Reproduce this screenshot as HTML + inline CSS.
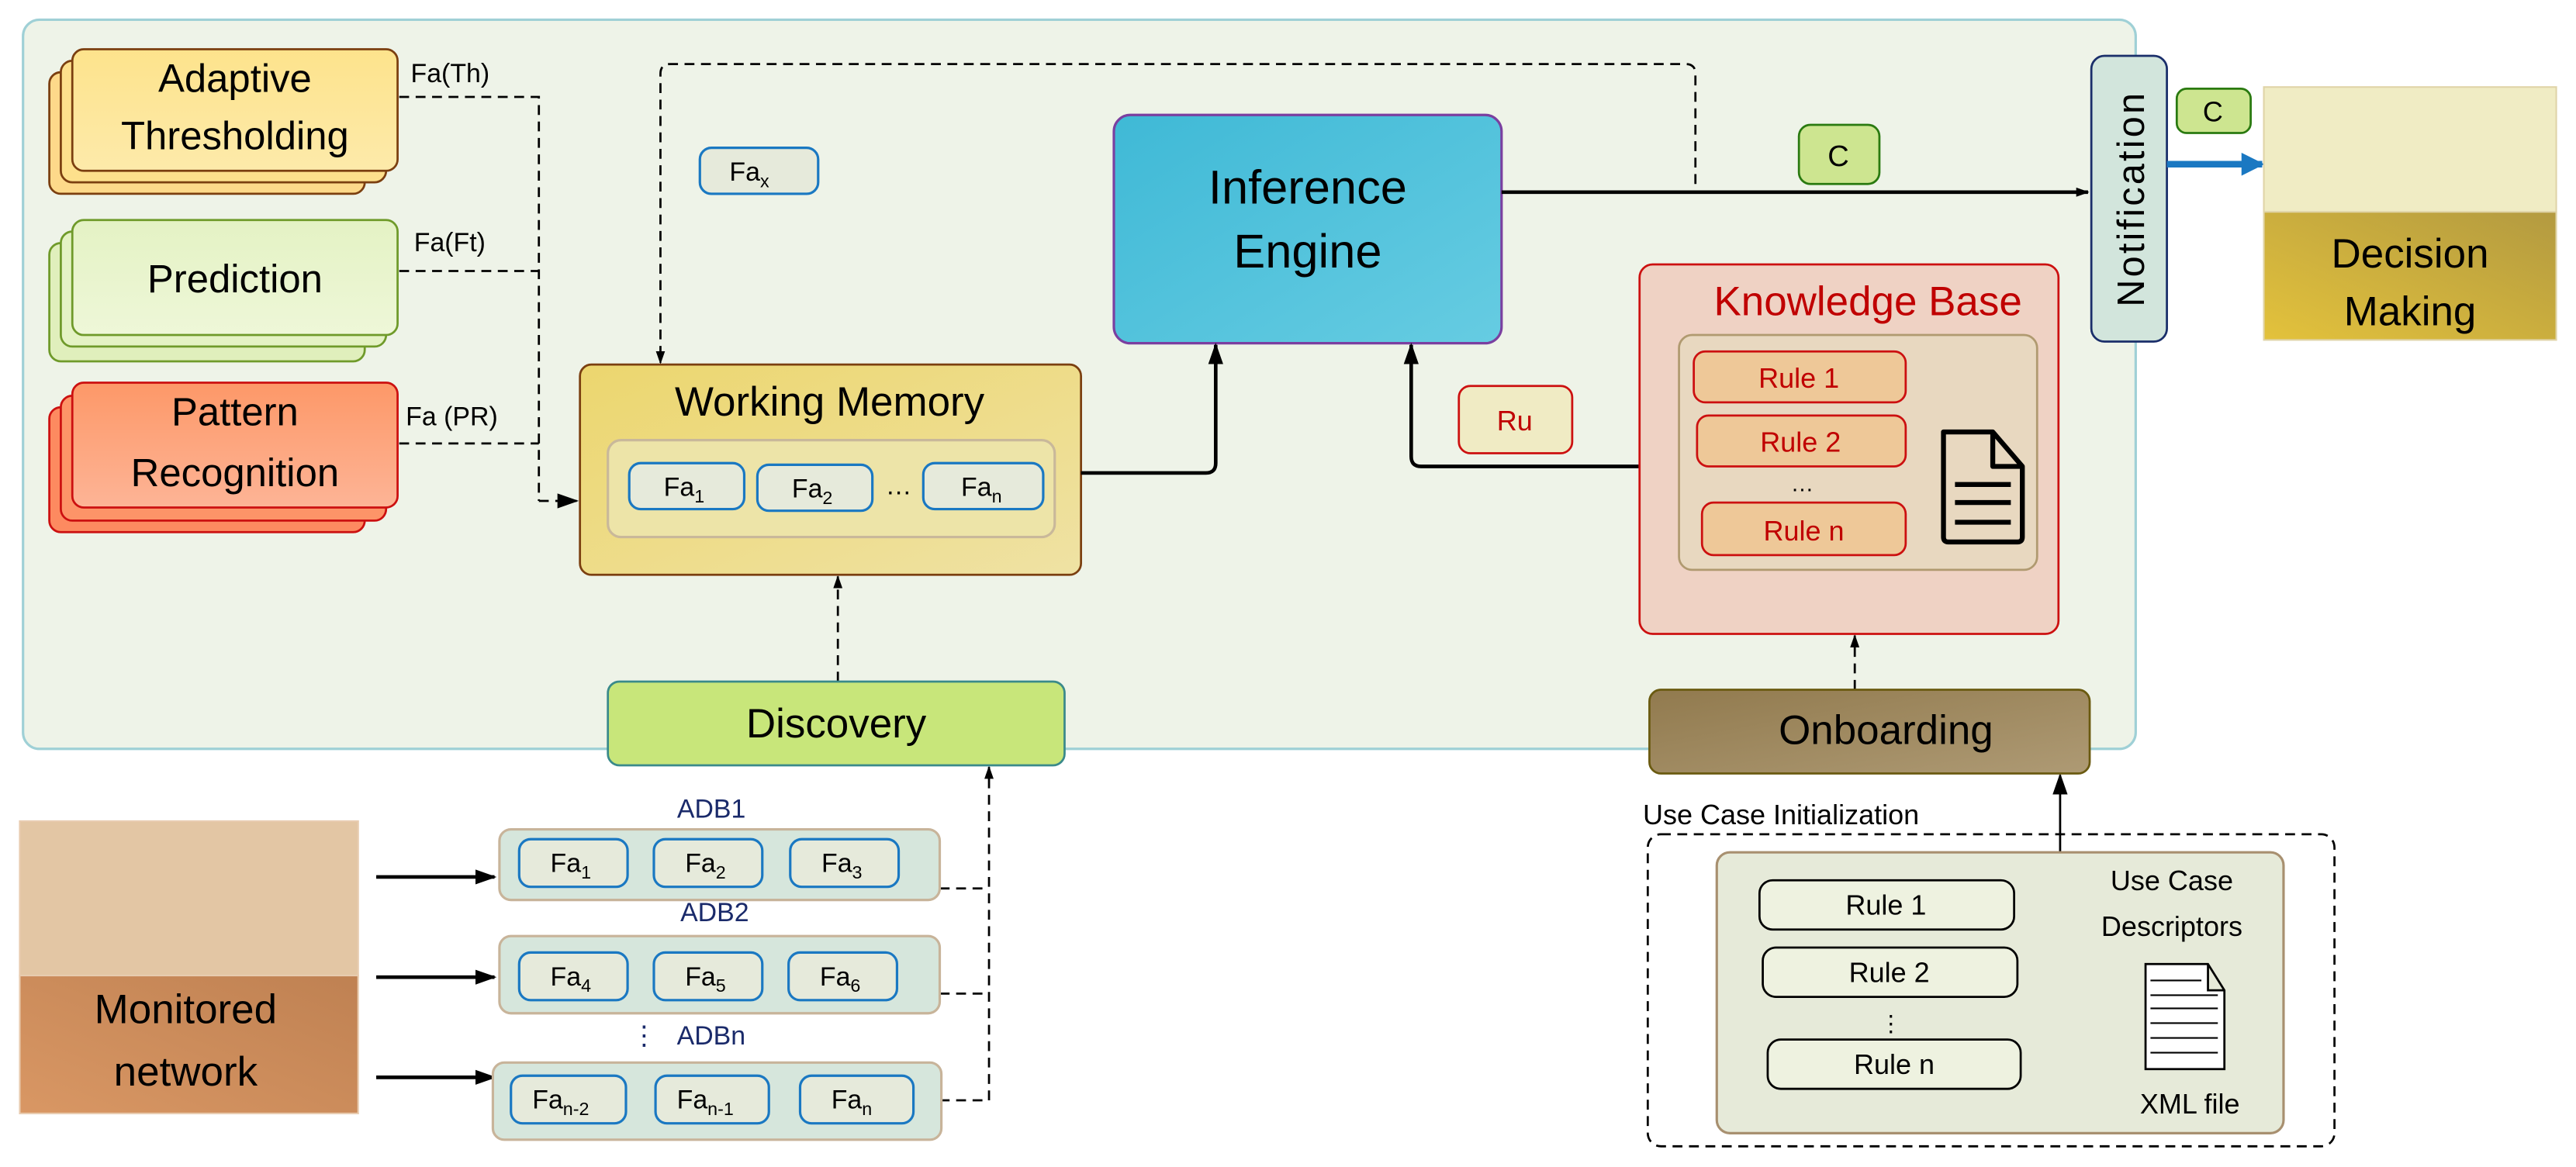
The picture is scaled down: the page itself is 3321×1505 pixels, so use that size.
<!DOCTYPE html>
<html><head><meta charset="utf-8"><style>
html,body{margin:0;padding:0;background:#fff;}
svg{display:block;}
text{font-family:"Liberation Sans",sans-serif;}
</style></head><body>
<svg width="3321" height="1505" viewBox="0 0 1568 710.6" xmlns="http://www.w3.org/2000/svg">
<defs>
<marker id="ah" viewBox="0 0 10 10" refX="9" refY="5" markerWidth="8" markerHeight="8" orient="auto-start-reverse" markerUnits="userSpaceOnUse"><path d="M0,1.5 L10,5 L0,8.5 z" fill="#000"/></marker>
<marker id="ahL" viewBox="0 0 10 10" refX="9" refY="5" markerWidth="13" markerHeight="13" orient="auto" markerUnits="userSpaceOnUse"><path d="M0,1.5 L10,5 L0,8.5 z" fill="#000"/></marker>
<marker id="ahb" viewBox="0 0 10 10" refX="9" refY="5" markerWidth="14" markerHeight="14" orient="auto" markerUnits="userSpaceOnUse"><path d="M0,0 L10,5 L0,10 z" fill="#1a78c2"/></marker>
<linearGradient id="gIE" x1="0" y1="0" x2="1" y2="1"><stop offset="0" stop-color="#3fb9d6"/><stop offset="1" stop-color="#66cce2"/></linearGradient>
<linearGradient id="gWM" x1="0" y1="0" x2="1" y2="1"><stop offset="0" stop-color="#ecd66e"/><stop offset="1" stop-color="#efe2a4"/></linearGradient>
<linearGradient id="gDM" x1="1" y1="0" x2="0" y2="1"><stop offset="0" stop-color="#b39a40"/><stop offset="1" stop-color="#e3c23c"/></linearGradient>
<linearGradient id="gMN" x1="1" y1="0" x2="0" y2="1"><stop offset="0" stop-color="#bf8152"/><stop offset="1" stop-color="#d99764"/></linearGradient>
<linearGradient id="gON" x1="0" y1="0" x2="1" y2="1"><stop offset="0" stop-color="#917a4e"/><stop offset="1" stop-color="#ae9a74"/></linearGradient>
<linearGradient id="gPR" x1="0" y1="0" x2="0" y2="1"><stop offset="0" stop-color="#fd9868"/><stop offset="1" stop-color="#fdb496"/></linearGradient>
<linearGradient id="gAT" x1="0" y1="0" x2="0" y2="1"><stop offset="0" stop-color="#fde38c"/><stop offset="1" stop-color="#fdeaaa"/></linearGradient>
<linearGradient id="gPD" x1="0" y1="0" x2="0" y2="1"><stop offset="0" stop-color="#e4f2c4"/><stop offset="1" stop-color="#eef7d8"/></linearGradient>
</defs>

<rect x="14" y="12" width="1286" height="444" rx="10" fill="#eef3e8" stroke="#9fd0d6" stroke-width="1.5"/>

<rect x="30" y="44" width="192" height="74" rx="7" fill="#fdd98a" stroke="#7b3f10" stroke-width="1.3"/>
<rect x="37" y="37" width="198" height="74" rx="7" fill="#fde08c" stroke="#7b3f10" stroke-width="1.3"/>
<rect x="44" y="30" width="198" height="74" rx="7" fill="url(#gAT)" stroke="#7b3f10" stroke-width="1.3"/>
<text x="143" y="56" font-size="24" text-anchor="middle">Adaptive</text>
<text x="143" y="91" font-size="24" text-anchor="middle">Thresholding</text>

<rect x="30" y="148" width="192" height="72" rx="7" fill="#e0efbc" stroke="#6f9a2a" stroke-width="1.3"/>
<rect x="37" y="141" width="198" height="70" rx="7" fill="#e4f2c4" stroke="#6f9a2a" stroke-width="1.3"/>
<rect x="44" y="134" width="198" height="70" rx="7" fill="url(#gPD)" stroke="#6f9a2a" stroke-width="1.3"/>
<text x="143" y="178" font-size="24" text-anchor="middle">Prediction</text>

<rect x="30" y="248" width="192" height="76" rx="7" fill="#fd8a60" stroke="#cc1010" stroke-width="1.3"/>
<rect x="37" y="241" width="198" height="76" rx="7" fill="#fd9468" stroke="#cc1010" stroke-width="1.3"/>
<rect x="44" y="233" width="198" height="76" rx="7" fill="url(#gPR)" stroke="#cc1010" stroke-width="1.3"/>
<text x="143" y="259" font-size="24" text-anchor="middle">Pattern</text>
<text x="143" y="296" font-size="24" text-anchor="middle">Recognition</text>

<text x="250" y="50" font-size="16">Fa(Th)</text>
<text x="252" y="153" font-size="16">Fa(Ft)</text>
<text x="247" y="259" font-size="16">Fa (PR)</text>

<g fill="none" stroke="#000" stroke-width="1.3" stroke-dasharray="6,4">
<path d="M243,59 H328 V305"/>
<path d="M243,165 H328"/>
<path d="M243,270 H328"/>
<path d="M328,305 H351" marker-end="url(#ahL)"/>
<path d="M1032,112 V45 Q1032,39 1026,39 H408 Q402,39 402,45 V221" marker-end="url(#ah)"/>
<path d="M510,415 V351" marker-end="url(#ah)"/>
<path d="M1129,420 V387" marker-end="url(#ah)"/>
<path d="M572,541 H602 M572,605 H602"/>
<path d="M572,670 H602 V467" marker-end="url(#ah)"/>
</g>

<rect x="426" y="90" width="72" height="28" rx="7" fill="#e6eadb" stroke="#1a78c2" stroke-width="1.5"/>
<text x="444" y="110" font-size="16">Fa<tspan font-size="11" dy="4">x</tspan></text>

<rect x="353" y="222" width="305" height="128" rx="7" fill="url(#gWM)" stroke="#7b3f10" stroke-width="1.3"/>
<text x="505" y="253" font-size="25" text-anchor="middle">Working Memory</text>
<rect x="370" y="268" width="272" height="59" rx="8" fill="#ede4a8" stroke="#c9b89a" stroke-width="1.5"/>
<rect x="383" y="282" width="70" height="28" rx="7" fill="#e6eadb" stroke="#1a78c2" stroke-width="1.5"/>
<text x="404" y="302" font-size="16">Fa<tspan font-size="11" dy="4">1</tspan></text>
<rect x="461" y="283" width="70" height="28" rx="7" fill="#e6eadb" stroke="#1a78c2" stroke-width="1.5"/>
<text x="482" y="303" font-size="16">Fa<tspan font-size="11" dy="4">2</tspan></text>
<text x="539" y="301" font-size="16">…</text>
<rect x="562" y="282" width="73" height="28" rx="7" fill="#e6eadb" stroke="#1a78c2" stroke-width="1.5"/>
<text x="585" y="302" font-size="16">Fa<tspan font-size="11" dy="4">n</tspan></text>

<rect x="678" y="70" width="236" height="139" rx="10" fill="url(#gIE)" stroke="#7a3fa0" stroke-width="1.5"/>
<text x="796" y="124" font-size="29" text-anchor="middle">Inference</text>
<text x="796" y="163" font-size="29" text-anchor="middle">Engine</text>

<g fill="none" stroke="#000" stroke-width="2.2">
<path d="M658,288 H734 Q740,288 740,282 V210" marker-end="url(#ahL)"/>
<path d="M914,117 H1271" marker-end="url(#ah)"/>
<path d="M998,284 H865 Q859,284 859,278 V210" marker-end="url(#ahL)"/>
<path d="M229,534 H301" marker-end="url(#ahL)"/>
<path d="M229,595 H301" marker-end="url(#ahL)"/>
<path d="M229,656 H301" marker-end="url(#ahL)"/>
</g>
<path d="M1254,520 V472" stroke="#000" stroke-width="1.3" fill="none" marker-end="url(#ahL)"/>

<rect x="1095" y="76" width="49" height="36" rx="7" fill="#cde590" stroke="#2a7a10" stroke-width="1.3"/>
<text x="1119" y="101" font-size="18" text-anchor="middle">C</text>

<rect x="1273" y="34" width="46" height="174" rx="8" fill="#d2e5dc" stroke="#1a2e6a" stroke-width="1.3"/>
<text transform="translate(1305,121) rotate(-90)" font-size="23" text-anchor="middle" letter-spacing="1.5">Notification</text>

<rect x="1325" y="54" width="45" height="27" rx="6" fill="#cde590" stroke="#2a7a10" stroke-width="1.3"/>
<text x="1347" y="74" font-size="17" text-anchor="middle">C</text>

<path d="M1319,100 H1377" stroke="#1a78c2" stroke-width="4" fill="none" marker-end="url(#ahb)"/>

<rect x="1378" y="53" width="178" height="77" fill="#f0ecc4" stroke="#e0d4a8" stroke-width="1"/>
<rect x="1378" y="129" width="178" height="78" fill="url(#gDM)" stroke="#e0d4a8" stroke-width="1"/>
<text x="1467" y="163" font-size="25" text-anchor="middle">Decision</text>
<text x="1467" y="198" font-size="25" text-anchor="middle">Making</text>

<rect x="998" y="161" width="255" height="225" rx="8" fill="#efd2c4" stroke="#cc1010" stroke-width="1.3"/>
<text x="1137" y="192" font-size="25" text-anchor="middle" fill="#c00000">Knowledge Base</text>
<rect x="1022" y="204" width="218" height="143" rx="8" fill="#e8d8c0" stroke="#b09a70" stroke-width="1.3"/>
<rect x="1031" y="214" width="129" height="31" rx="7" fill="#eec898" stroke="#cc1010" stroke-width="1.3"/>
<text x="1095" y="236" font-size="17" text-anchor="middle" fill="#c00000">Rule 1</text>
<rect x="1033" y="253" width="127" height="31" rx="7" fill="#eec898" stroke="#cc1010" stroke-width="1.3"/>
<text x="1096" y="275" font-size="17" text-anchor="middle" fill="#c00000">Rule 2</text>
<text x="1097" y="299" font-size="14" text-anchor="middle">…</text>
<rect x="1036" y="306" width="124" height="32" rx="7" fill="#eec898" stroke="#cc1010" stroke-width="1.3"/>
<text x="1098" y="329" font-size="17" text-anchor="middle" fill="#c00000">Rule n</text>
<path d="M1183,263 H1213 L1231,284 V327 Q1231,330 1228,330 H1186 Q1183,330 1183,327 Z M1213,263 V284 H1231" fill="none" stroke="#000" stroke-width="3" stroke-linejoin="round"/>
<path d="M1190,295 H1224 M1190,306 H1224 M1190,318 H1224" stroke="#000" stroke-width="3"/>

<rect x="888" y="235" width="69" height="41" rx="7" fill="#f0ebc4" stroke="#cc1010" stroke-width="1.3"/>
<text x="922" y="262" font-size="17" text-anchor="middle" fill="#c00000">Ru</text>

<rect x="370" y="415" width="278" height="51" rx="7" fill="#c8e67a" stroke="#3a8a8a" stroke-width="1.3"/>
<text x="509" y="449" font-size="25" text-anchor="middle">Discovery</text>

<rect x="1004" y="420" width="268" height="51" rx="7" fill="url(#gON)" stroke="#6a5a10" stroke-width="1.3"/>
<text x="1148" y="453" font-size="25" text-anchor="middle">Onboarding</text>

<rect x="12" y="500" width="206" height="95" fill="#e3c6a4" stroke="#e8ccb0" stroke-width="1"/>
<rect x="12" y="594" width="206" height="84" fill="url(#gMN)" stroke="#e8ccb0" stroke-width="1"/>
<text x="113" y="623" font-size="25" text-anchor="middle">Monitored</text>
<text x="113" y="661" font-size="25" text-anchor="middle">network</text>

<g font-size="16">
<text x="433" y="498" text-anchor="middle" fill="#1a2a6a">ADB1</text>
<rect x="304" y="505" width="268" height="43" rx="7" fill="#d6e6dc" stroke="#c8b49a" stroke-width="1.5"/>
<rect x="316" y="511" width="66" height="29" rx="7" fill="#e6eadb" stroke="#1a78c2" stroke-width="1.5"/>
<text x="335" y="531">Fa<tspan font-size="11" dy="4">1</tspan></text>
<rect x="398" y="511" width="66" height="29" rx="7" fill="#e6eadb" stroke="#1a78c2" stroke-width="1.5"/>
<text x="417" y="531">Fa<tspan font-size="11" dy="4">2</tspan></text>
<rect x="481" y="511" width="66" height="29" rx="7" fill="#e6eadb" stroke="#1a78c2" stroke-width="1.5"/>
<text x="500" y="531">Fa<tspan font-size="11" dy="4">3</tspan></text>

<text x="435" y="561" text-anchor="middle" fill="#1a2a6a">ADB2</text>
<rect x="304" y="570" width="268" height="47" rx="7" fill="#d6e6dc" stroke="#c8b49a" stroke-width="1.5"/>
<rect x="316" y="580" width="66" height="29" rx="7" fill="#e6eadb" stroke="#1a78c2" stroke-width="1.5"/>
<text x="335" y="600">Fa<tspan font-size="11" dy="4">4</tspan></text>
<rect x="398" y="580" width="66" height="29" rx="7" fill="#e6eadb" stroke="#1a78c2" stroke-width="1.5"/>
<text x="417" y="600">Fa<tspan font-size="11" dy="4">5</tspan></text>
<rect x="480" y="580" width="66" height="29" rx="7" fill="#e6eadb" stroke="#1a78c2" stroke-width="1.5"/>
<text x="499" y="600">Fa<tspan font-size="11" dy="4">6</tspan></text>

<text x="384" y="636" fill="#1a2a6a">⋮</text>
<text x="412" y="636" fill="#1a2a6a">ADBn</text>
<rect x="300" y="647" width="273" height="47" rx="7" fill="#d6e6dc" stroke="#c8b49a" stroke-width="1.5"/>
<rect x="311" y="655" width="70" height="29" rx="7" fill="#e6eadb" stroke="#1a78c2" stroke-width="1.5"/>
<text x="324" y="675">Fa<tspan font-size="11" dy="4">n-2</tspan></text>
<rect x="399" y="655" width="69" height="29" rx="7" fill="#e6eadb" stroke="#1a78c2" stroke-width="1.5"/>
<text x="412" y="675">Fa<tspan font-size="11" dy="4">n-1</tspan></text>
<rect x="487" y="655" width="69" height="29" rx="7" fill="#e6eadb" stroke="#1a78c2" stroke-width="1.5"/>
<text x="506" y="675">Fa<tspan font-size="11" dy="4">n</tspan></text>
</g>

<text x="1000" y="502" font-size="17">Use Case Initialization</text>
<rect x="1003" y="508" width="418" height="190" rx="8" fill="none" stroke="#000" stroke-width="1.3" stroke-dasharray="6,4"/>
<rect x="1045" y="519" width="345" height="171" rx="8" fill="#e6ead9" stroke="#a89070" stroke-width="1.5"/>
<rect x="1071" y="536" width="155" height="30" rx="8" fill="#eef2e0" stroke="#000" stroke-width="1.3"/>
<text x="1148" y="557" font-size="17" text-anchor="middle">Rule 1</text>
<rect x="1073" y="577" width="155" height="30" rx="8" fill="#eef2e0" stroke="#000" stroke-width="1.3"/>
<text x="1150" y="598" font-size="17" text-anchor="middle">Rule 2</text>
<text x="1151" y="628" font-size="14" text-anchor="middle">⋮</text>
<rect x="1076" y="633" width="154" height="30" rx="8" fill="#eef2e0" stroke="#000" stroke-width="1.3"/>
<text x="1153" y="654" font-size="17" text-anchor="middle">Rule n</text>
<text x="1322" y="542" font-size="17" text-anchor="middle">Use Case</text>
<text x="1322" y="570" font-size="17" text-anchor="middle">Descriptors</text>
<path d="M1306,587 H1344 L1354,603 V651 H1306 Z M1344,587 V603 H1354" fill="#fff" stroke="#000" stroke-width="1.3"/>
<path d="M1309,597 H1340 M1309,606 H1350 M1309,614 H1350 M1309,623 H1350 M1309,632 H1350 M1309,641 H1350" stroke="#000" stroke-width="1"/>
<text x="1333" y="678" font-size="17" text-anchor="middle">XML file</text>
</svg>
</body></html>
